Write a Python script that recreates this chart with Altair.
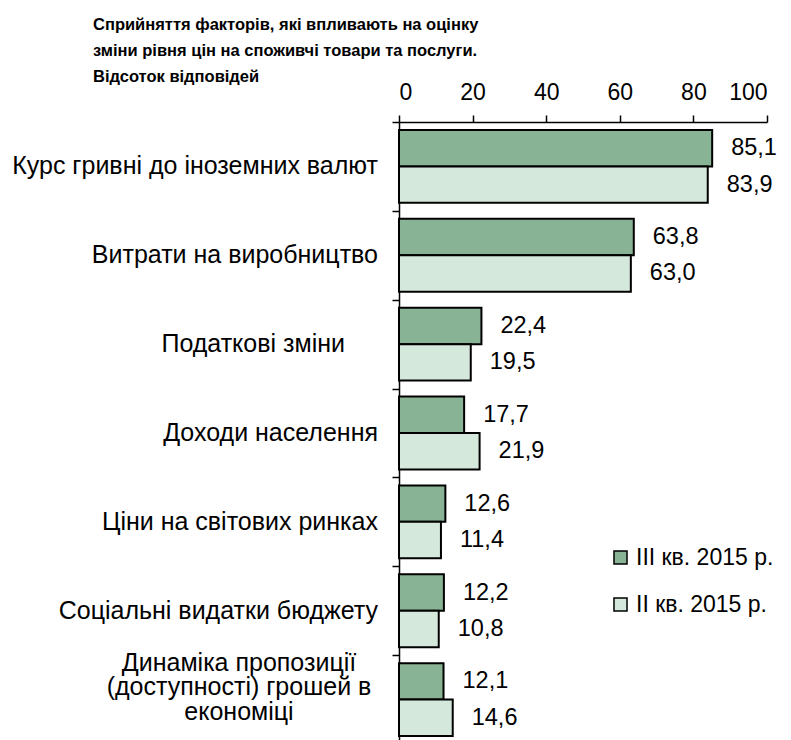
import altair as alt
import pandas as pd

categories = [
    "Курс гривні до іноземних валют",
    "Витрати на виробництво",
    "Податкові зміни",
    "Доходи населення",
    "Ціни на світових ринках",
    "Соціальні видатки бюджету",
    "Динаміка пропозиції (доступності) грошей в економіці",
]
wrapped = {
    categories[6]: "Динаміка пропозиції\n(доступності) грошей в\nекономіці",
}
series = ["III кв. 2015 р.", "II кв. 2015 р."]
q3_values = [85.1, 63.8, 22.4, 17.7, 12.6, 12.2, 12.1]
q2_values = [83.9, 63.0, 19.5, 21.9, 11.4, 10.8, 14.6]
colors = ["#88b395", "#d5e8dc"]
x_ticks = [0, 20, 40, 60, 80, 100]
title_lines = [
    "Сприйняття факторів, які впливають на оцінку",
    "зміни рівня цін на споживчі товари та послуги.",
    "Відсоток відповідей",
]

rows = []
for c, v3, v2 in zip(categories, q3_values, q2_values):
    rows.append({"cat": c, "series": series[0], "value": v3})
    rows.append({"cat": c, "series": series[1], "value": v2})
df = pd.DataFrame(rows)
lab_df = pd.DataFrame({"cat": categories, "text": [wrapped.get(c, c) for c in categories]})

FONT = "Liberation Sans"

y_enc = alt.Y(
    "cat:N",
    sort=categories,
    scale=alt.Scale(paddingInner=0, paddingOuter=0),
    axis=alt.Axis(
        title=None,
        orient="left",
        tickBand="extent",
        tickSize=7,
        tickColor="black",
        domainColor="black",
        domainWidth=1.5,
        tickWidth=1.5,
        labels=False,
    ),
)

x_enc = alt.X(
    "value:Q",
    scale=alt.Scale(domain=[0, 100], nice=False),
    axis=alt.Axis(
        title=None,
        orient="top",
        values=x_ticks,
        tickSize=7,
        tickColor="black",
        tickWidth=1.5,
        domainColor="black",
        domainWidth=1.5,
        grid=False,
        labelFont=FONT,
        labelFontSize=23,
        labelColor="black",
        labelPadding=11,
    ),
)

y_off = alt.YOffset(
    "series:N",
    sort=series,
    scale=alt.Scale(paddingInner=0, paddingOuter=0.22),
)

bars = alt.Chart(df).mark_bar(stroke="black", strokeWidth=2).encode(
    y=y_enc,
    x=x_enc,
    yOffset=y_off,
    color=alt.Color(
        "series:N",
        sort=series,
        scale=alt.Scale(domain=series, range=colors),
        legend=alt.Legend(
            title=None,
            orient="none",
            legendX=210,
            legendY=424,
            symbolType="square",
            symbolSize=170,
            symbolStrokeColor="black",
            symbolStrokeWidth=1.5,
            labelFont=FONT,
            labelFontSize=23,
            labelColor="black",
            labelOffset=4,
            rowPadding=23,
            labelLimit=300,
        ),
    ),
)

values = alt.Chart(df).transform_calculate(
    txt="replace(format(datum.value, '.1f'), '.', ',')"
).mark_text(
    align="left", baseline="middle", dx=19, font=FONT, fontSize=23.5, color="black"
).encode(
    y=alt.Y("cat:N", sort=categories),
    x=alt.X("value:Q"),
    yOffset=alt.YOffset("series:N", sort=series),
    text="txt:N",
)

# category labels (left of the axis)
cat_main = alt.Chart(lab_df).transform_filter(
    alt.FieldOneOfPredicate(field="cat", oneOf=[categories[i] for i in (0, 1, 3, 4, 5)])
).mark_text(
    align="right", baseline="middle", font=FONT, fontSize=25, color="black"
).encode(
    y=alt.Y("cat:N", sort=categories),
    x=alt.value(-21),
    text="text:N",
)

cat_tax = alt.Chart(lab_df).transform_filter(
    alt.FieldEqualPredicate(field="cat", equal=categories[2])
).mark_text(
    align="right", baseline="middle", font=FONT, fontSize=25, color="black"
).encode(
    y=alt.Y("cat:N", sort=categories),
    x=alt.value(-54),
    text="text:N",
)

cat_multi = alt.Chart(lab_df).transform_filter(
    alt.FieldEqualPredicate(field="cat", equal=categories[6])
).mark_text(
    align="center", baseline="middle", font=FONT, fontSize=25, color="black",
    lineBreak="\n", lineHeight=24.5, dy=-37,
).encode(
    y=alt.Y("cat:N", sort=categories),
    x=alt.value(-160),
    text="text:N",
)

chart = (
    alt.layer(bars, values, cat_main, cat_tax, cat_multi)
    .properties(
        width=368,
        height=622,
        autosize=alt.AutoSizeParams(type="none"),
        padding={"left": 391, "top": 114, "right": 15, "bottom": 0},
        title=alt.TitleParams(
            text=title_lines,
            anchor="start",
            frame="group",
            dx=-306,
            dy=8,
            font=FONT,
            fontSize=16.5,
            fontWeight="bold",
            lineHeight=26,
            color="black",
        ),
    )
    .configure_view(stroke=None)
)

chart.save("out.html", embed_options={"renderer": "svg", "actions": False})
